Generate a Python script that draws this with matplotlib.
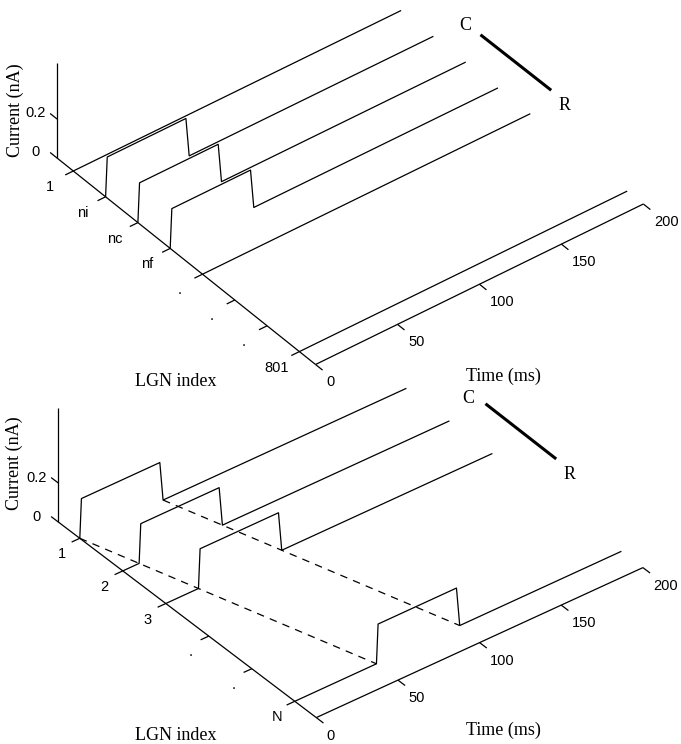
import numpy as np
import matplotlib.pyplot as plt

# time axis (ms) and current axis (nA)
t_end = 200
time_ticks = [0, 50, 100, 150, 200]
current_ticks = [0, 0.2]

# one current pulse, relative to its onset (ms, nA)
pulse_t = [0, 1, 49, 51]
pulse_i = [0, 0.2, 0.2, 0]

# top panel
top_labels = ['1', 'ni', 'nc', 'nf', '.', '.', '.', '801']
top_rows = [0, 1, 2, 3, 4, 7]
top_onsets = [np.nan, 0, 0, 0, np.nan, np.nan]
top_zmax = 0.49

# bottom panel
bot_labels = ['1', '2', '3', '.', '.', 'N']
bot_rows = [0, 1, 2, 5]
bot_onsets = [0, 10, 20, 50]
bot_zmax = 0.585

SANS = 'Liberation Sans'
SERIF = 'Liberation Serif'
LW = 0.9


def make_proj(origin, e_row, e_t, e_z):
    # oblique projection: (row, time, current) -> figure pixels
    def proj(row, t, z):
        row, t, z = np.broadcast_arrays(np.asarray(row, float),
                                        np.asarray(t, float),
                                        np.asarray(z, float))
        x = origin[0] + row * e_row[0] + t * e_t[0] + z * e_z[0]
        y = origin[1] + row * e_row[1] + t * e_t[1] + z * e_z[1]
        return x, y
    return proj


def unit(v):
    v = np.asarray(v, float)
    return v / np.hypot(*v)


def trace(onset):
    if np.isnan(onset):
        return np.array([0, t_end]), np.array([0, 0])
    t = np.concatenate([[0], onset + np.array(pulse_t), [t_end]])
    i = np.concatenate([[0], pulse_i, [0]])
    return t, i


def draw_panel(ax, P, labels, rows, onsets, zmax, lab_off, dashed=False):
    proj = make_proj(P['origin'], P['e_row'], P['e_t'], P['e_z'])
    ur = unit(P['e_row'])
    ut = unit(P['e_t'])
    tl = 9
    rmin, rmax = -0.5, len(labels) - 0.5
    kw = dict(color='black', lw=LW, solid_capstyle='butt')

    # axes lines
    x, y = proj([rmin, rmin], 0, [0, zmax])
    ax.plot(x, y, **kw)
    x, y = proj([rmin, rmax], 0, 0)
    ax.plot(x, y, **kw)
    x, y = proj(rmax, [0, t_end], 0)
    ax.plot(x, y, **kw)

    # current ticks
    for z in current_ticks:
        x0, y0 = proj(rmin, 0, z)
        ax.plot([x0, x0 - tl * ur[0]], [y0, y0 - tl * ur[1]], **kw)
        ax.text(x0 - tl * ur[0] - 15, y0 - tl * ur[1], f'{z:g}',
                family=SANS, fontsize=10.5, ha='center', va='center')

    # index ticks
    for r, lab in enumerate(labels):
        x0, y0 = proj(r, 0, 0)
        ax.plot([x0, x0 - tl * ut[0]], [y0, y0 - tl * ut[1]], **kw)
        ax.text(x0 + lab_off[0], y0 + lab_off[1], lab,
                family=SANS, fontsize=10.5, ha='center', va='center')

    # time ticks
    for t in time_ticks:
        x0, y0 = proj(rmax, t, 0)
        ax.plot([x0, x0 + tl * ur[0]], [y0, y0 + tl * ur[1]], **kw)
        ax.text(x0 + 10.5, y0 + 18, str(t),
                family=SANS, fontsize=10.5, ha='left', va='center')

    # traces
    for r, on in zip(rows, onsets):
        t, i = trace(on)
        x, y = proj(r, t, i)
        ax.plot(x, y, **kw)

    # delay guides
    if dashed:
        for k in (0, pulse_t[-1]):
            x, y = proj([rows[0], rows[-1]],
                        [onsets[0] + k, onsets[-1] + k], 0)
            ax.plot(x, y, color='black', lw=LW, dashes=(6, 5))

    # axis titles
    ax.text(*P['zlab'], 'Current (nA)', family=SERIF, fontsize=13,
            rotation=90, ha='center', va='center')
    ax.text(*P['rlab'], 'LGN index', family=SERIF, fontsize=13,
            ha='center', va='center')
    ax.text(*P['tlab'], 'Time (ms)', family=SERIF, fontsize=13,
            ha='center', va='center')

    # C - R orientation marker
    (cx0, cy0), (cx1, cy1) = P['cr']
    ax.plot([cx0, cx1], [cy0, cy1], color='black', lw=2.2)
    ax.text(*P['c'], 'C', family=SERIF, fontsize=13, ha='center', va='center')
    ax.text(*P['r'], 'R', family=SERIF, fontsize=13, ha='center', va='center')


top_panel = dict(origin=(73.3, 171.0), e_row=(32.3, 25.8),
                 e_t=(1.639, -0.8025), e_z=(0, -195),
                 zlab=(15, 110), rlab=(176, 382), tlab=(503, 376),
                 cr=((481.7, 35.7), (550, 89.3)), c=(465, 25), r=(565, 105))
bot_panel = dict(origin=(79.8, 538.3), e_row=(43.0, 32.6),
                 e_t=(1.633, -0.75), e_z=(0, -195),
                 zlab=(14, 463), rlab=(176, 736), tlab=(503, 730),
                 cr=((486.7, 404.7), (555, 458)), c=(468.3, 398.7),
                 r=(569.3, 474.7))

fig = plt.figure(figsize=(6.81, 7.44), dpi=100)
ax = fig.add_axes([0, 0, 1, 1])
ax.set_xlim(0, 681)
ax.set_ylim(744, 0)
ax.axis('off')

draw_panel(ax, top_panel, top_labels, top_rows, top_onsets, top_zmax,
           lab_off=(-23, 16))
draw_panel(ax, bot_panel, bot_labels, bot_rows, bot_onsets, bot_zmax,
           lab_off=(-18, 16), dashed=True)

fig.savefig('out.png', dpi=100)
